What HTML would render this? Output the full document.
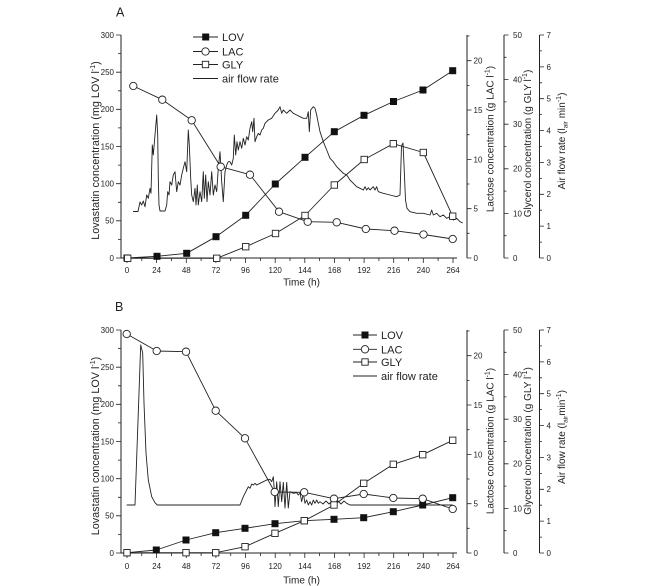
<!DOCTYPE html>
<html><head><meta charset="utf-8"><style>
html,body{margin:0;padding:0;background:#fff;}
svg{display:block;font-family:"Liberation Sans",Arial,sans-serif;}
</style></head><body>
<svg width="657" height="586" viewBox="0 0 657 586" xmlns="http://www.w3.org/2000/svg">
<rect width="657" height="586" fill="#fff"/>

<!-- ================= PANEL A AXES ================= -->
<g>
<g stroke="#222" fill="none">
<path d="M121 35V258H457" stroke-width="1"/>
<path d="M467 35V258M504 35V258M539.5 35V258" stroke-width="1"/>
<path stroke-width="0.8" d="M116 35H121M116 72.2H121M116 109.3H121M116 146.5H121M116 183.7H121M116 220.8H121M116 258H121M118 53.6H121M118 90.8H121M118 127.9H121M118 165.1H121M118 202.3H121M118 239.4H121"/>
<path stroke-width="0.8" d="M127 258V263M156.6 258V263M186.3 258V263M215.9 258V263M245.5 258V263M275.2 258V263M304.8 258V263M334.4 258V263M364.1 258V263M393.7 258V263M423.3 258V263M453 258V263M141.8 258V261M171.4 258V261M201.1 258V261M230.7 258V261M260.4 258V261M290 258V261M319.6 258V261M349.3 258V261M378.9 258V261M408.5 258V261M438.1 258V261"/>
<path stroke-width="0.8" d="M467 258H471.5M467 208.7H471.5M467 159.4H471.5M467 110H471.5M467 60.7H471.5M467 233.3H469.5M467 184H469.5M467 134.7H469.5M467 85.4H469.5M467 36H469.5"/>
<path stroke-width="0.8" d="M504 258H508.5M504 213.4H508.5M504 168.8H508.5M504 124.2H508.5M504 79.6H508.5M504 35H508.5M504 235.7H506.5M504 191.1H506.5M504 146.5H506.5M504 101.9H506.5M504 57.3H506.5"/>
<path stroke-width="0.8" d="M539.5 258H544M539.5 226.1H544M539.5 194.3H544M539.5 162.4H544M539.5 130.6H544M539.5 98.7H544M539.5 66.9H544M539.5 35H544M539.5 242.1H542M539.5 210.2H542M539.5 178.4H542M539.5 146.5H542M539.5 114.6H542M539.5 82.8H542M539.5 50.9H542"/>
</g>
<g font-size="8" fill="#222">
<g text-anchor="end">
<text x="114" y="260.9">0</text><text x="114" y="223.7">50</text><text x="114" y="186.6">100</text><text x="114" y="149.4">150</text><text x="114" y="112.2">200</text><text x="114" y="75.1">250</text><text x="114" y="37.9">300</text>
</g>
<g text-anchor="middle">
<text x="127" y="273">0</text><text x="156.6" y="273">24</text><text x="186.3" y="273">48</text><text x="215.9" y="273">72</text><text x="245.5" y="273">96</text><text x="275.2" y="273">120</text><text x="304.8" y="273">144</text><text x="334.4" y="273">168</text><text x="364.1" y="273">192</text><text x="393.7" y="273">216</text><text x="423.3" y="273">240</text><text x="453" y="273">264</text>
</g>
<text x="473.5" y="260.9">0</text><text x="473.5" y="211.6">5</text><text x="473.5" y="162.3">10</text><text x="473.5" y="112.9">15</text><text x="473.5" y="63.6">20</text>
<text x="513" y="260.9">0</text><text x="513" y="216.3">10</text><text x="513" y="171.7">20</text><text x="513" y="127.1">30</text><text x="513" y="82.5">40</text><text x="513" y="37.9">50</text>
<text x="546.5" y="260.9">0</text><text x="546.5" y="229">1</text><text x="546.5" y="197.2">2</text><text x="546.5" y="165.3">3</text><text x="546.5" y="133.5">4</text><text x="546.5" y="101.6">5</text><text x="546.5" y="69.8">6</text><text x="546.5" y="37.9">7</text>
</g>
</g>

<!-- ================= PANEL B AXES ================= -->
<g transform="translate(0,295)">
<g stroke="#222" fill="none">
<path d="M121 35V258H457" stroke-width="1"/>
<path d="M467 35V258M504 35V258M539.5 35V258" stroke-width="1"/>
<path stroke-width="0.8" d="M116 35H121M116 72.2H121M116 109.3H121M116 146.5H121M116 183.7H121M116 220.8H121M116 258H121M118 53.6H121M118 90.8H121M118 127.9H121M118 165.1H121M118 202.3H121M118 239.4H121"/>
<path stroke-width="0.8" d="M127 258V263M156.6 258V263M186.3 258V263M215.9 258V263M245.5 258V263M275.2 258V263M304.8 258V263M334.4 258V263M364.1 258V263M393.7 258V263M423.3 258V263M453 258V263M141.8 258V261M171.4 258V261M201.1 258V261M230.7 258V261M260.4 258V261M290 258V261M319.6 258V261M349.3 258V261M378.9 258V261M408.5 258V261M438.1 258V261"/>
<path stroke-width="0.8" d="M467 258H471.5M467 208.7H471.5M467 159.4H471.5M467 110H471.5M467 60.7H471.5M467 233.3H469.5M467 184H469.5M467 134.7H469.5M467 85.4H469.5M467 36H469.5"/>
<path stroke-width="0.8" d="M504 258H508.5M504 213.4H508.5M504 168.8H508.5M504 124.2H508.5M504 79.6H508.5M504 35H508.5M504 235.7H506.5M504 191.1H506.5M504 146.5H506.5M504 101.9H506.5M504 57.3H506.5"/>
<path stroke-width="0.8" d="M539.5 258H544M539.5 226.1H544M539.5 194.3H544M539.5 162.4H544M539.5 130.6H544M539.5 98.7H544M539.5 66.9H544M539.5 35H544M539.5 242.1H542M539.5 210.2H542M539.5 178.4H542M539.5 146.5H542M539.5 114.6H542M539.5 82.8H542M539.5 50.9H542"/>
</g>
<g font-size="8" fill="#222">
<g text-anchor="end">
<text x="114" y="260.9">0</text><text x="114" y="223.7">50</text><text x="114" y="186.6">100</text><text x="114" y="149.4">150</text><text x="114" y="112.2">200</text><text x="114" y="75.1">250</text><text x="114" y="37.9">300</text>
</g>
<g text-anchor="middle">
<text x="127" y="274">0</text><text x="156.6" y="274">24</text><text x="186.3" y="274">48</text><text x="215.9" y="274">72</text><text x="245.5" y="274">96</text><text x="275.2" y="274">120</text><text x="304.8" y="274">144</text><text x="334.4" y="274">168</text><text x="364.1" y="274">192</text><text x="393.7" y="274">216</text><text x="423.3" y="274">240</text><text x="453" y="274">264</text>
</g>
<text x="473.5" y="260.9">0</text><text x="473.5" y="211.6">5</text><text x="473.5" y="162.3">10</text><text x="473.5" y="112.9">15</text><text x="473.5" y="63.6">20</text>
<text x="513" y="260.9">0</text><text x="513" y="216.3">10</text><text x="513" y="171.7">20</text><text x="513" y="127.1">30</text><text x="513" y="82.5">40</text><text x="513" y="37.9">50</text>
<text x="546.5" y="260.9">0</text><text x="546.5" y="229">1</text><text x="546.5" y="197.2">2</text><text x="546.5" y="165.3">3</text><text x="546.5" y="133.5">4</text><text x="546.5" y="101.6">5</text><text x="546.5" y="69.8">6</text><text x="546.5" y="37.9">7</text>
</g>
</g>

<!-- ================= TITLES ================= -->
<g fill="#222">
<text x="116" y="16.5" font-size="12.5">A</text>
<text x="115" y="311" font-size="12.5">B</text>
<text x="301.5" y="285.5" font-size="10" text-anchor="middle">Time (h)</text>
<text x="301.5" y="583.5" font-size="10" text-anchor="middle">Time (h)</text>

<text font-size="10.8" text-anchor="middle" transform="translate(99,150.5) rotate(-90)">Lovastatin concentration (mg LOV l<tspan dy="-4" font-size="7">-1</tspan><tspan dy="4">)</tspan></text>
<text font-size="10.8" text-anchor="middle" transform="translate(99,446) rotate(-90)">Lovastatin concentration (mg LOV l<tspan dy="-4" font-size="7">-1</tspan><tspan dy="4">)</tspan></text>

<text font-size="10" text-anchor="middle" transform="translate(493.5,139) rotate(-90)">Lactose concentration (g LAC l<tspan dy="-4" font-size="7">-1</tspan><tspan dy="4">)</tspan></text>
<text font-size="10" text-anchor="middle" transform="translate(531,143.5) rotate(-90)">Glycerol concentration (g GLY l<tspan dy="-4" font-size="7">-1</tspan><tspan dy="4">)</tspan></text>
<text font-size="10" text-anchor="middle" transform="translate(565,141) rotate(-90)">Air flow rate (l<tspan dy="2.5" font-size="6.5">air</tspan><tspan dy="-2.5"> min</tspan><tspan dy="-4" font-size="7">-1</tspan><tspan dy="4">)</tspan></text>

<text font-size="10" text-anchor="middle" transform="translate(493.5,441) rotate(-90)">Lactose concentration (g LAC l<tspan dy="-4" font-size="7">-1</tspan><tspan dy="4">)</tspan></text>
<text font-size="10" text-anchor="middle" transform="translate(531,441) rotate(-90)">Glycerol concentration (g GLY l<tspan dy="-4" font-size="7">-1</tspan><tspan dy="4">)</tspan></text>
<text font-size="10" text-anchor="middle" transform="translate(565,437) rotate(-90)">Air flow rate (l<tspan dy="2.5" font-size="6.5">air</tspan><tspan dy="-2.5">min</tspan><tspan dy="-4" font-size="7">-1</tspan><tspan dy="4">)</tspan></text>
</g>

<!-- ================= PANEL A DATA ================= -->
<g fill="none" stroke="#222" stroke-width="0.9" stroke-linejoin="round">
<polyline points="133,211.5 138,211.5 140,202 141.7,205 143.3,201 145,206.7 146.7,195 148.3,198.3 150,188.3 151,193.3 152.3,145 153.3,155 155,135 156.7,115 157.7,135 158.3,178 159,205 160,211 165,211 166.7,205 167.7,191.7 169,195 170,181.7 171.7,185 173.3,175 175,171.7 176.7,191.7 178.3,181.7 180,185 181.7,175 183.3,168.3 185,161.7 186.7,171.7 188.3,130 189.3,145 190.7,178.3 191.7,195 193.3,201.7 195,188.3 196,205 197.3,185 198.3,205 200,191.7 201.7,201.7 203.3,171.7 204.3,198.3 205.7,175 207,201.7 208.3,181.7 210,195 211.7,171.7 213.3,195 215,185 216.7,191.7 218.3,168.3 220,151.7 221.7,181.7 223.3,201.7 225,171.7 226.7,165 228.3,161.7 230,161.7 231.7,165 233.3,158.3 234.3,135 235.7,155 237,141.7 238.3,150 240,141.7 241.7,148.3 243.3,138.3 245,145 246.7,136.7 248.3,140 250,128.3 251.7,121.7 252.7,131.7 254,118.3 255,141.7 256.7,136.7 258.3,133.3 260,135 261.7,130 263.3,128.3 265,123.3 268.3,120 271.7,118.3 275,113.3 278.3,110 280,106.7 281.7,113.3 283.3,110 286.7,113.3 290,110 293.3,113.3 296.7,115 300,116.7 303.3,118.3 306.7,118.3 308.3,111.7 309.3,131.7 310.7,110 313.3,106.7 315,108.3 316.7,115 318.3,123.3 320,131.7 323.3,141.7 326.7,150 330,158.3 333.3,161.7 336.7,166.7 340,170 343.3,173.3 346.7,175 350,180 353.3,183.3 356.7,186.7 360,188.3 363.3,190 365,186.7 366.7,190 368.3,187.7 370,190 373.3,186.7 375,190 376.7,186.7 378.3,191.7 383.3,193.3 390,195 396.7,196.7 400,195 401.5,146 403,143 404,165 405.5,200 407,208.3 410,211.7 416.7,213.3 423.3,213.3 430,215 431.7,210 433.3,215 436.7,213.3 440,216.7 443.3,215 446.7,218.3 450,216.7 453.3,220 456.7,218.3 460,221.7 462.7,223"/>
<polyline points="127,258 157,256.3 186.7,253.3 216,236.7 245.7,215.3 275.3,184 305,157.3 334.3,131.7 364,115.3 393.5,101.5 423,90 452.7,70.7"/>
<polyline points="133.3,86 162.3,99.7 191.7,120.3 220.7,166.7 250,174.7 279,211.7 307.7,221.7 336.7,222.3 365.8,229 394.5,230.7 423.5,234.5 452.7,239"/>
<polyline points="127.7,258.3 216.7,258.3 245.7,246.7 275.5,233.5 305,215.5 334.3,185 364.2,159.5 393.3,143.7 423.3,152.5 452.7,216.2"/>
</g>
<g fill="#111" stroke="#111" stroke-width="0.6">
<rect x="123.8" y="254.8" width="6.4" height="6.4"/><rect x="153.8" y="253.1" width="6.4" height="6.4"/><rect x="183.5" y="250.1" width="6.4" height="6.4"/><rect x="212.8" y="233.5" width="6.4" height="6.4"/><rect x="242.5" y="212.1" width="6.4" height="6.4"/><rect x="272.1" y="180.8" width="6.4" height="6.4"/><rect x="301.8" y="154.1" width="6.4" height="6.4"/><rect x="331.1" y="128.5" width="6.4" height="6.4"/><rect x="360.8" y="112.1" width="6.4" height="6.4"/><rect x="390.3" y="98.3" width="6.4" height="6.4"/><rect x="419.8" y="86.8" width="6.4" height="6.4"/><rect x="449.5" y="67.5" width="6.4" height="6.4"/>
</g>
<g fill="#fff" stroke="#222" stroke-width="0.9">
<circle cx="133.3" cy="86" r="3.7"/><circle cx="162.3" cy="99.7" r="3.7"/><circle cx="191.7" cy="120.3" r="3.7"/><circle cx="220.7" cy="166.7" r="3.7"/><circle cx="250" cy="174.7" r="3.7"/><circle cx="279" cy="211.7" r="3.7"/><circle cx="307.7" cy="221.7" r="3.7"/><circle cx="336.7" cy="222.3" r="3.7"/><circle cx="365.8" cy="229" r="3.7"/><circle cx="394.5" cy="230.7" r="3.7"/><circle cx="423.5" cy="234.5" r="3.7"/><circle cx="452.7" cy="239" r="3.7"/>
<rect x="124.5" y="255.1" width="6.4" height="6.4"/><rect x="213.5" y="255.1" width="6.4" height="6.4"/><rect x="242.5" y="243.5" width="6.4" height="6.4"/><rect x="272.3" y="230.3" width="6.4" height="6.4"/><rect x="301.8" y="212.3" width="6.4" height="6.4"/><rect x="331.1" y="181.8" width="6.4" height="6.4"/><rect x="361" y="156.3" width="6.4" height="6.4"/><rect x="390.1" y="140.5" width="6.4" height="6.4"/><rect x="420.1" y="149.3" width="6.4" height="6.4"/><rect x="449.5" y="213" width="6.4" height="6.4"/>
</g>

<!-- ================= PANEL B DATA ================= -->
<g fill="none" stroke="#222" stroke-width="0.9" stroke-linejoin="round">
<polyline points="126.7,505 135,505 140.7,345 142.7,353 144,403 146,453 148.3,480 151.7,496.7 155,502.7 157.3,505 240,505 243.3,496.7 246.7,490 248.3,486.7 250,488.3 251.7,484 253.3,485 255,483.3 256.7,485 260,483.3 263.3,481.7 266.7,480 270,479.3 271.7,481.7 273.3,476.7 274.3,490 275,506.7 276.7,481.7 278.3,506.7 280,481.7 281.7,501.7 283.3,482.3 285,508 286.7,482.3 288.3,508 290,491.7 293.3,493.3 296.7,492.7 298.3,495 300,493 301.7,501.7 303.3,493.3 305,503.3 306.7,500 308.3,505 310,501.7 311.7,505 313.3,500 315,503.3 316.7,500 318.3,503.3 320,501.7 323,504 326,501 329,504 332,501 335,504 338,501 341,504 344,501 346.7,503.3 350,505 452.7,505"/>
<polyline points="127,552.7 156.3,550 186,540 215.7,532.7 245,528.3 275,523.7 304.3,520.7 334,519.3 363.7,517.7 393.3,511.7 422.7,505 452.7,497.7"/>
<polyline points="126.7,334 156.7,351 186,351.7 215.7,410.7 245,438.3 274.7,492 304.2,492.3 334,498.7 363.7,494 393.3,498 422.7,498.7 452.7,509"/>
<polyline points="127,552.7 186,552.7 215.7,552.7 245,546.7 275,533.3 304.3,520.7 334,505 363.7,483.3 393.3,464.3 422.7,454.7 452.7,440.3"/>
</g>
<g fill="#111" stroke="#111" stroke-width="0.6">
<rect x="123.8" y="549.5" width="6.4" height="6.4"/><rect x="153.1" y="546.8" width="6.4" height="6.4"/><rect x="182.8" y="536.8" width="6.4" height="6.4"/><rect x="212.5" y="529.5" width="6.4" height="6.4"/><rect x="241.8" y="525.1" width="6.4" height="6.4"/><rect x="271.8" y="520.5" width="6.4" height="6.4"/><rect x="301.1" y="517.5" width="6.4" height="6.4"/><rect x="330.8" y="516.1" width="6.4" height="6.4"/><rect x="360.5" y="514.5" width="6.4" height="6.4"/><rect x="390.1" y="508.5" width="6.4" height="6.4"/><rect x="419.5" y="501.8" width="6.4" height="6.4"/><rect x="449.5" y="494.5" width="6.4" height="6.4"/>
</g>
<g fill="#fff" stroke="#222" stroke-width="0.9">
<circle cx="126.7" cy="334" r="3.7"/><circle cx="156.7" cy="351" r="3.7"/><circle cx="186" cy="351.7" r="3.7"/><circle cx="215.7" cy="410.7" r="3.7"/><circle cx="245" cy="438.3" r="3.7"/><circle cx="274.7" cy="492" r="3.7"/><circle cx="304.2" cy="492.3" r="3.7"/><circle cx="334" cy="498.7" r="3.7"/><circle cx="363.7" cy="494" r="3.7"/><circle cx="393.3" cy="498" r="3.7"/><circle cx="422.7" cy="498.7" r="3.7"/><circle cx="452.7" cy="509" r="3.7"/>
<rect x="123.8" y="549.5" width="6.4" height="6.4"/><rect x="182.8" y="549.5" width="6.4" height="6.4"/><rect x="212.5" y="549.5" width="6.4" height="6.4"/><rect x="241.8" y="543.5" width="6.4" height="6.4"/><rect x="271.8" y="530.1" width="6.4" height="6.4"/><rect x="301.1" y="517.5" width="6.4" height="6.4"/><rect x="330.8" y="501.8" width="6.4" height="6.4"/><rect x="360.5" y="480.1" width="6.4" height="6.4"/><rect x="390.1" y="461.1" width="6.4" height="6.4"/><rect x="419.5" y="451.5" width="6.4" height="6.4"/><rect x="449.5" y="437.1" width="6.4" height="6.4"/>
</g>

<!-- ================= LEGEND A ================= -->
<g stroke="#222" stroke-width="0.9" fill="none">
<path d="M193 37H218M193 51.5H218M193 64.5H218M193 78.5H218"/>
</g>
<rect x="202.5" y="33.8" width="6.4" height="6.4" fill="#111" stroke="#111" stroke-width="0.6"/>
<circle cx="205.5" cy="51.5" r="3.7" fill="#fff" stroke="#222" stroke-width="0.9"/>
<rect x="202.3" y="61.3" width="6.4" height="6.4" fill="#fff" stroke="#222" stroke-width="0.9"/>
<g font-size="11" fill="#222">
<text x="222" y="41">LOV</text>
<text x="222" y="55.5">LAC</text>
<text x="222" y="68.5">GLY</text>
<text x="222" y="82.5">air flow rate</text>
</g>

<!-- ================= LEGEND B ================= -->
<g stroke="#222" stroke-width="0.9" fill="none">
<path d="M353 335H377M353 349.3H377M353 362H377M353 376H377"/>
</g>
<rect x="361.8" y="331.8" width="6.4" height="6.4" fill="#111" stroke="#111" stroke-width="0.6"/>
<circle cx="365" cy="349.3" r="3.7" fill="#fff" stroke="#222" stroke-width="0.9"/>
<rect x="361.8" y="358.8" width="6.4" height="6.4" fill="#fff" stroke="#222" stroke-width="0.9"/>
<g font-size="11" fill="#222">
<text x="381" y="339">LOV</text>
<text x="381" y="353.3">LAC</text>
<text x="381" y="366">GLY</text>
<text x="381" y="380">air flow rate</text>
</g>
</svg>
</body></html>
